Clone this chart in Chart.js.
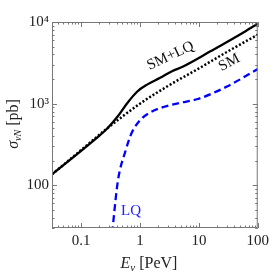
<!DOCTYPE html>
<html><head><meta charset="utf-8">
<script src="https://cdn.jsdelivr.net/npm/chart.js@4"></script>
<style>html,body{margin:0;padding:0;background:#fff}#wrap{width:273px;height:272px}</style>
</head><body><div id="wrap"><canvas id="c" width="273" height="272"></canvas></div>
<script>
// ---- data ----
const smlqEnergy = [0.032, 0.17, 0.28, 0.42, 0.61, 0.9, 1.32, 2.2, 3.5, 5.4, 16, 58, 100];
const smlqSigma  = [136, 362, 500, 700, 1020, 1410, 1710, 2070, 2500, 2850, 4400, 7500, 9550];
const smEnergy   = [0.032, 0.1, 0.28, 1, 3, 10, 30, 100];
const smSigma    = [136, 270, 500, 1000, 1650, 2700, 4300, 7000];
const lqEnergy   = [0.336, 0.42, 0.575, 0.65, 0.74, 1.02, 1.5, 2.5, 4.7, 9.6, 30, 100];
const lqSigma    = [26, 112, 273, 360, 455, 636, 782, 910, 1020, 1140, 1620, 2650];
const xTickValues = [0.1, 1, 10, 100];
const xTickLabels = ['0.1', '1', '10', '100'];
const yTickValues = [100, 1000, 10000];
const yTickLabels = ['100', '10\u00B3', '10\u2074'];
const seriesNames = ['SM+LQ', 'SM', 'LQ'];

const toPts = (xs, ys) => xs.map((x, i) => ({x: x, y: ys[i]}));
const SERIF = '"Liberation Serif", "DejaVu Serif", serif';

const framePlugin = {
  id: 'frame',
  afterDatasetsDraw(chart) {
    const {ctx, chartArea: a, scales} = chart;
    const xs = scales.x, ys = scales.y;
    ctx.save();
    ctx.strokeStyle = '#777';
    ctx.lineWidth = 1;
    ctx.strokeRect(a.left + 0.5, a.top + 0.5, a.right - a.left - 1, a.bottom - a.top - 1);
    ctx.beginPath();
    const xmin = xs.min, xmax = xs.max, ymin = ys.min, ymax = ys.max;
    for (let k = -3; k <= 3; k++) {
      for (let m = 1; m <= 9; m++) {
        const v = m * Math.pow(10, k);
        const len = m === 1 ? 5 : 2.5;
        if (v >= xmin && v <= xmax) {
          const px = Math.round(xs.getPixelForValue(v)) + 0.5;
          ctx.moveTo(px, a.bottom); ctx.lineTo(px, a.bottom - len);
          ctx.moveTo(px, a.top); ctx.lineTo(px, a.top + len);
        }
        if (v >= ymin && v <= ymax) {
          const py = Math.round(ys.getPixelForValue(v)) + 0.5;
          ctx.moveTo(a.left, py); ctx.lineTo(a.left + len, py);
          ctx.moveTo(a.right, py); ctx.lineTo(a.right - len, py);
        }
      }
    }
    ctx.stroke();
    ctx.restore();
  },
  afterDraw(chart) {
    const {ctx, chartArea: a, scales} = chart;
    const xs = scales.x, ys = scales.y;
    ctx.save();
    // x axis title: E_ν [PeV]
    ctx.fillStyle = '#222';
    ctx.textBaseline = 'alphabetic';
    const parts = [
      {t: 'E', f: 'italic 16px ' + SERIF, dy: 0},
      {t: '\u03BD', f: 'italic 11px ' + SERIF, dy: 3},
      {t: ' [PeV]', f: '16px ' + SERIF, dy: 0}
    ];
    let w = 0;
    parts.forEach(p => { ctx.font = p.f; p.w = ctx.measureText(p.t).width; w += p.w; });
    let x0 = 149 - w / 2; const yb = 268;
    parts.forEach(p => { ctx.font = p.f; ctx.fillText(p.t, x0, yb + p.dy); x0 += p.w; });
    // y axis title: σ_νN [pb]
    ctx.translate(18, 124);
    ctx.rotate(-Math.PI / 2);
    const yparts = [
      {t: '\u03C3', f: 'italic 16px ' + SERIF, dy: 0},
      {t: '\u03BDN', f: 'italic 10px ' + SERIF, dy: 3},
      {t: ' [pb]', f: '16px ' + SERIF, dy: 0}
    ];
    w = 0;
    yparts.forEach(p => { ctx.font = p.f; p.w = ctx.measureText(p.t).width; w += p.w; });
    x0 = -w / 2;
    yparts.forEach(p => { ctx.font = p.f; ctx.fillText(p.t, x0, p.dy); x0 += p.w; });
    ctx.restore();
    // curve labels
    const label = (txt, ex, sy, ang, col) => {
      ctx.save();
      ctx.translate(xs.getPixelForValue(ex), ys.getPixelForValue(sy));
      ctx.rotate(ang * Math.PI / 180);
      ctx.font = '15px ' + SERIF;
      ctx.fillStyle = col;
      ctx.textAlign = 'center';
      ctx.textBaseline = 'middle';
      ctx.fillText(txt, 0, 0);
      ctx.restore();
    };
    label(seriesNames[0], 3.3, 3850, -25, '#111');
    label(seriesNames[1], 32.8, 3185, -28, '#111');
    label(seriesNames[2], 0.705, 48.6, 0, '#1f1fff');
  }
};

new Chart(document.getElementById('c'), {
  type: 'line',
  data: {
    datasets: [
      {label: seriesNames[0], data: toPts(smlqEnergy, smlqSigma), borderColor: '#000', borderWidth: 2.3,
       pointRadius: 0, fill: false, cubicInterpolationMode: 'monotone'},
      {label: seriesNames[1], data: toPts(smEnergy, smSigma), borderColor: '#000', borderWidth: 2.5,
       borderDash: [2, 2], pointRadius: 0, fill: false, cubicInterpolationMode: 'monotone'},
      {label: seriesNames[2], data: toPts(lqEnergy, lqSigma), borderColor: '#0000ff', borderWidth: 2.3,
       borderDash: [7, 4], pointRadius: 0, fill: false, cubicInterpolationMode: 'monotone'}
    ]
  },
  options: {
    responsive: false,
    animation: false,
    events: [],
    layout: {padding: {top: 22, right: 12, left: 0, bottom: 0}},
    plugins: {legend: {display: false}, tooltip: {enabled: false}},
    scales: {
      x: {
        type: 'logarithmic', min: 0.032, max: 100,
        grid: {display: false, drawTicks: false},
        border: {display: false},
        afterBuildTicks: s => { s.ticks = xTickValues.map(v => ({value: v})); },
        afterFit: s => { s.height = 44; },
        ticks: {
          padding: 4, color: '#222', maxRotation: 0, autoSkip: false,
          font: {family: SERIF, size: 15},
          callback: v => { const i = xTickValues.indexOf(v); return i >= 0 ? xTickLabels[i] : ''; }
        }
      },
      y: {
        type: 'logarithmic', min: 30, max: 10000,
        grid: {display: false, drawTicks: false},
        border: {display: false},
        afterBuildTicks: s => { s.ticks = yTickValues.map(v => ({value: v})); },
        afterFit: s => { s.width = 52; },
        ticks: {
          padding: 3, color: '#222', autoSkip: false,
          font: {family: SERIF, size: 15},
          callback: v => { const i = yTickValues.indexOf(v); return i >= 0 ? yTickLabels[i] : ''; }
        }
      }
    }
  },
  plugins: [framePlugin]
});
</script></body></html>
